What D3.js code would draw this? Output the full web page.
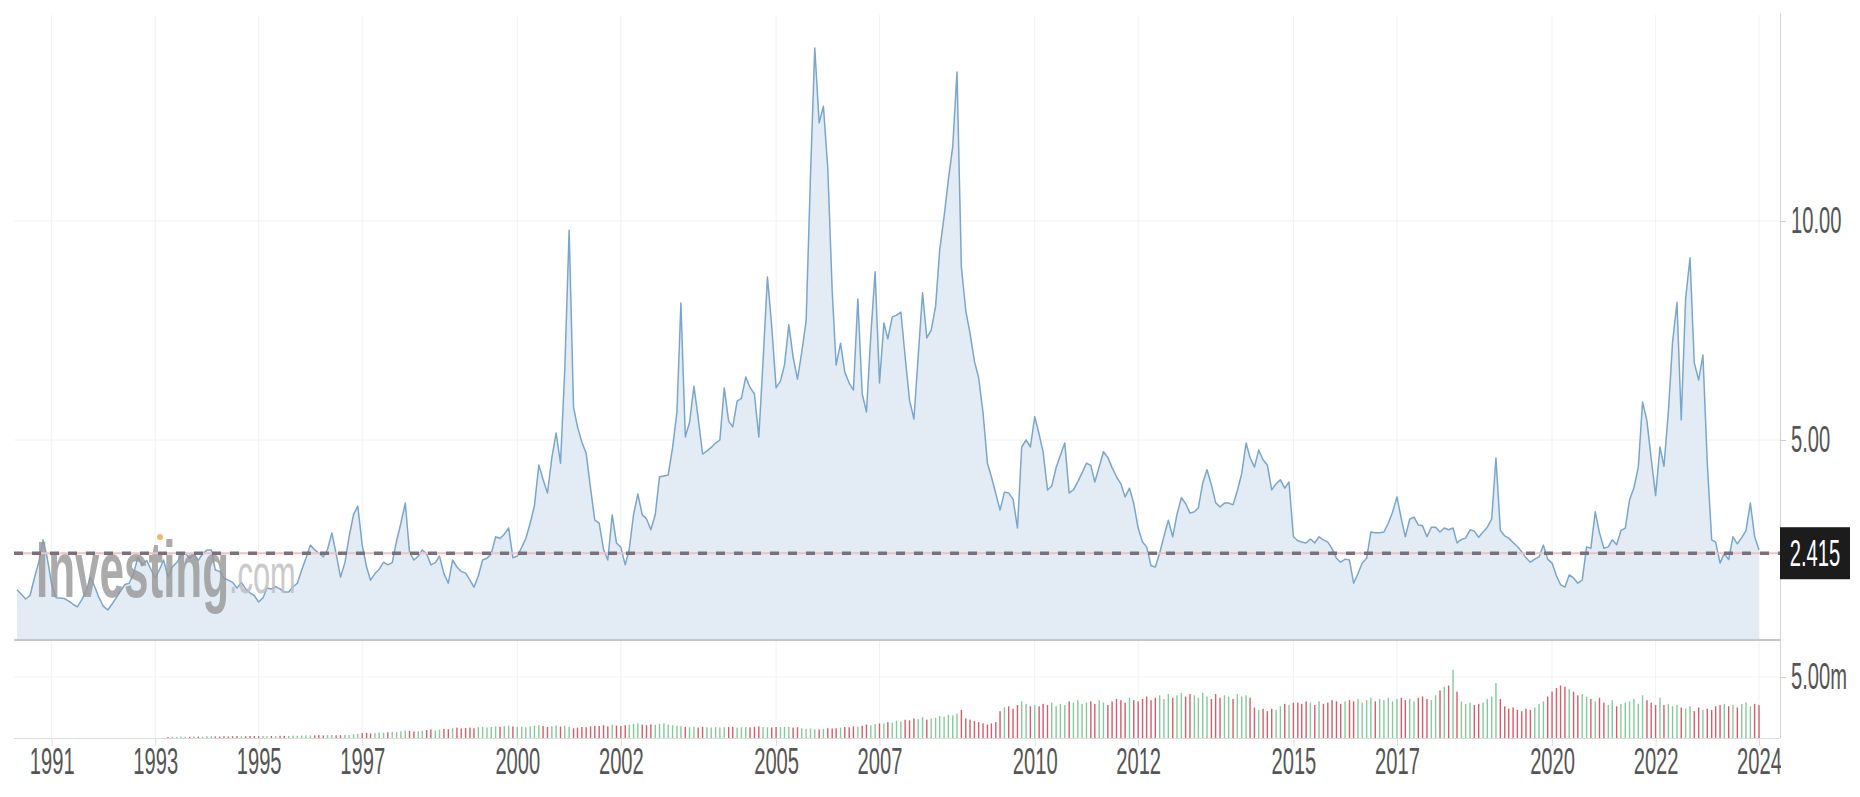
<!DOCTYPE html>
<html>
<head>
<meta charset="utf-8">
<script src="https://cdnjs.cloudflare.com/ajax/libs/d3/7.8.5/d3.min.js"></script>
<style>
body { margin: 0; background: #fff; overflow: hidden; }
svg { display: block; }
</style>
</head>
<body>
<div id="chart"></div>
<script>
var width = 1860;
var height = 797;

// monthly closes, first one is April 1990
var startMonth = new Date(1990, 3, 1);
var closes = [
  1.58,1.48,1.37,1.45,1.85,2.20,2.72,2.30,1.70,                  // 1990
  1.40,1.39,1.38,1.32,1.25,1.19,1.35,1.55,1.87,1.65,1.40,1.20,   // 1991
  1.12,1.25,1.40,1.55,1.70,1.73,1.95,2.33,2.15,2.25,2.05,1.85,   // 1992
  2.05,2.26,1.87,2.10,2.20,2.35,2.42,2.30,2.40,2.25,2.40,2.49,   // 1993
  2.49,2.03,2.00,1.85,1.80,1.75,1.62,1.75,1.60,1.51,1.45,1.30,   // 1994
  1.40,1.62,1.60,1.65,1.60,1.53,1.53,1.65,1.73,2.03,2.30,2.60,   // 1995
  2.49,2.42,2.33,2.50,2.88,2.40,1.87,2.20,2.80,3.30,3.49,2.60,   // 1996
  2.10,1.80,1.95,2.05,2.21,2.15,2.20,2.70,3.10,3.56,2.44,2.26,   // 1997
  2.35,2.49,2.40,2.15,2.20,2.35,1.95,1.73,2.26,2.10,2.00,1.96,   // 1998
  1.80,1.64,1.90,2.26,2.30,2.40,2.79,2.75,2.85,2.99,2.31,2.35,   // 1999
  2.55,2.75,3.10,3.50,4.43,4.10,3.79,4.60,5.16,4.47,6.60,9.79,   // 2000
  5.75,5.30,4.95,4.70,3.90,3.17,3.10,2.50,2.26,3.29,2.65,2.55,   // 2001
  2.15,2.50,3.30,3.77,3.29,3.20,2.95,3.30,4.16,4.18,4.20,4.82,   // 2002
  5.64,8.13,5.07,5.40,6.23,5.50,4.68,4.75,4.83,4.93,5.00,6.19,   // 2003
  5.43,5.30,5.89,5.95,6.44,6.20,6.05,5.07,6.80,8.72,7.60,6.19,   // 2004
  6.35,6.71,7.63,6.90,6.39,7.00,7.72,11.05,13.95,12.24,12.62,11.20, // 2005
  8.40,6.71,7.21,6.55,6.30,6.14,8.22,6.05,5.64,7.40,8.84,6.30,   // 2006
  7.67,7.31,7.81,7.85,7.92,6.90,5.91,5.48,6.90,8.36,7.33,7.51,   // 2007
  8.05,9.34,10.10,10.94,11.70,13.40,8.95,7.95,7.44,6.80,6.42,5.62, // 2008
  4.47,4.16,3.78,3.40,3.81,3.79,3.65,2.99,4.84,5.00,4.84,5.53,   // 2009
  5.13,4.73,3.86,3.95,4.37,4.65,4.93,3.79,3.86,4.05,4.25,4.47,   // 2010
  4.42,4.04,4.39,4.73,4.60,4.37,4.16,4.00,3.70,3.90,3.55,2.99,   // 2011
  2.67,2.56,2.13,2.10,2.42,2.80,3.17,2.79,3.30,3.68,3.55,3.33,   // 2012
  3.36,3.45,4.02,4.32,3.98,3.57,3.47,3.56,3.56,3.52,3.84,4.23,   // 2013
  4.93,4.60,4.38,4.77,4.55,4.43,3.86,4.00,4.09,3.90,4.04,2.79,   // 2014
  2.70,2.67,2.65,2.74,2.65,2.79,2.72,2.67,2.52,2.30,2.21,2.28,   // 2015
  2.26,1.73,1.95,2.19,2.30,2.90,2.88,2.88,2.90,3.10,3.35,3.70,   // 2016
  3.20,2.79,3.19,3.24,3.06,3.04,2.79,3.01,3.01,2.90,2.99,2.95,   // 2017
  2.99,2.65,2.73,2.76,2.95,2.92,2.78,2.90,3.01,3.20,4.59,2.94,   // 2018
  2.81,2.76,2.66,2.57,2.45,2.31,2.21,2.28,2.33,2.60,2.28,2.19,   // 2019
  1.90,1.70,1.64,1.92,1.85,1.73,1.80,2.56,2.53,3.36,2.88,2.53,   // 2020
  2.56,2.72,2.61,2.93,2.99,3.63,3.91,4.38,5.87,5.43,4.57,3.73,   // 2021
  4.84,4.40,5.64,7.24,8.14,5.46,8.23,9.16,6.76,6.37,6.94,4.47,   // 2022
  2.72,2.67,2.19,2.41,2.27,2.79,2.63,2.77,2.93,3.56,2.80,2.49    // 2023
];

// monthly volume in millions (no bars before 1993)
var volumes = [
  null,null,null,null,null,null,null,null,null,                          // 1990
  null,null,null,null,null,null,null,null,null,null,null,null,           // 1991
  null,null,null,null,null,null,null,null,null,null,null,null,           // 1992
  null,null,0.08,0.10,0.09,0.12,0.10,0.11,0.13,0.12,0.10,0.14,           // 1993
  0.15,0.13,0.12,0.14,0.13,0.15,0.16,0.14,0.15,0.17,0.16,0.15,           // 1994
  0.16,0.15,0.17,0.16,0.18,0.17,0.16,0.19,0.18,0.20,0.22,0.21,           // 1995
  0.22,0.24,0.21,0.23,0.25,0.22,0.24,0.26,0.25,0.30,0.35,0.40,           // 1996
  0.42,0.38,0.40,0.45,0.43,0.47,0.50,0.48,0.55,0.62,0.58,0.52,           // 1997
  0.55,0.60,0.65,0.70,0.62,0.68,0.75,0.72,0.80,0.85,0.78,0.82,           // 1998
  0.85,0.80,0.88,0.92,0.86,0.90,0.95,0.93,0.98,1.02,0.95,0.90,           // 1999
  0.92,0.88,0.95,1.00,1.05,0.98,0.90,0.96,1.02,0.94,1.00,0.92,           // 2000
  0.80,0.85,0.90,0.88,0.95,1.00,0.98,1.05,0.95,1.10,1.02,0.98,           // 2001
  1.05,1.10,1.15,1.20,1.10,1.05,1.12,1.08,1.15,1.20,1.10,1.05,           // 2002
  1.00,0.95,0.90,0.88,0.92,0.85,0.90,0.88,0.86,0.90,0.85,0.88,           // 2003
  0.90,0.92,0.85,0.88,0.90,0.87,0.92,0.95,0.90,0.88,0.86,0.90,           // 2004
  0.88,0.90,0.92,0.85,0.88,0.80,0.75,0.78,0.72,0.70,0.75,0.80,           // 2005
  0.78,0.80,0.85,0.90,0.88,0.95,0.92,1.00,1.10,1.05,1.15,1.20,           // 2006
  1.20,1.30,1.25,1.40,1.35,1.50,1.45,1.60,1.55,1.70,1.50,1.60,           // 2007
  1.65,1.80,1.75,1.90,1.85,2.00,2.30,1.60,1.50,1.40,1.30,1.20,           // 2008
  1.10,1.20,1.30,2.20,2.50,2.60,2.40,2.70,3.00,2.80,2.60,2.70,           // 2009
  2.60,2.80,2.70,2.90,2.60,2.80,2.70,3.00,2.90,3.10,2.80,2.90,           // 2010
  3.00,2.80,3.10,2.90,2.70,3.00,3.20,3.10,2.90,3.30,3.10,3.00,           // 2011
  3.20,3.40,3.10,3.30,3.50,3.20,3.60,3.30,3.50,3.70,3.40,3.60,           // 2012
  3.50,3.30,3.70,3.40,3.20,3.60,3.30,3.50,3.40,3.20,3.60,3.40,           // 2013
  3.50,3.30,2.50,2.30,2.40,2.20,2.40,2.30,2.60,2.80,2.70,2.90,           // 2014
  2.90,2.80,3.00,2.90,2.70,3.00,2.80,2.90,3.10,3.00,2.80,3.00,           // 2015
  3.10,3.00,3.20,2.90,3.10,3.30,3.00,3.20,3.10,3.30,3.00,3.20,           // 2016
  3.30,3.10,3.20,3.00,3.30,3.40,3.20,3.10,3.50,3.90,4.20,4.30,           // 2017
  5.60,3.80,3.00,2.80,2.90,2.70,2.80,2.90,3.20,3.40,4.50,3.20,           // 2018
  2.60,2.40,2.50,2.30,2.20,2.40,2.30,2.50,2.80,3.00,3.40,3.80,           // 2019
  4.10,4.30,4.20,4.00,3.80,3.50,3.60,3.40,3.20,3.00,3.30,2.90,           // 2020
  2.70,3.10,2.60,2.80,2.90,3.00,3.20,2.80,3.50,3.10,2.90,2.70,           // 2021
  3.30,2.70,2.80,2.60,2.70,2.50,2.40,2.60,2.20,2.50,2.30,2.40,           // 2022
  2.30,2.60,2.70,2.80,2.60,2.70,2.50,2.80,2.90,2.60,2.80,2.70            // 2023
];

var tickYears = [1991,1993,1995,1997,2000,2002,2005,2007,2010,2012,2015,2017,2020,2022,2024];
var priceTicks = [5, 10];
var volumeTicks = [5];
var lastPrice = 2.415;

// each monthly close is drawn at the end of its month
var data = closes.map(function(c, i) {
  return {
    date: d3.timeMonth.offset(startMonth, i + 1),
    close: c,
    volume: volumes[i],
    up: i === 0 ? true : c >= closes[i - 1]
  };
});

var padL = 14, padR = 1780, plotTop = 15, mainBottom = 640, volBottom = 738;
var squeeze = 0.56;   // the screenshot's text is narrow

var x = d3.scaleTime()
  .domain([new Date(1991, 0, 1), new Date(2024, 0, 1)])
  .range([51.7, 1759]);
var y = d3.scaleLinear().domain([0, 10]).range([659, 221]);
var yv = d3.scaleLinear().domain([0, 5]).range([volBottom, 677]);

var svg = d3.select("#chart").append("svg")
  .attr("width", width)
  .attr("height", height)
  .style("font-family", "'Liberation Sans', Arial, sans-serif");

svg.append("defs").append("clipPath").attr("id", "mainclip")
  .append("rect")
  .attr("x", padL).attr("y", plotTop)
  .attr("width", padR - padL).attr("height", mainBottom - plotTop);

// grid
svg.append("g").selectAll("line")
  .data(tickYears)
  .join("line")
  .attr("x1", function(d) { return x(new Date(d, 0, 1)); })
  .attr("x2", function(d) { return x(new Date(d, 0, 1)); })
  .attr("y1", plotTop)
  .attr("y2", volBottom)
  .attr("stroke", "#f2f2f2")
  .attr("stroke-width", 1);

svg.append("g").selectAll("line")
  .data(priceTicks)
  .join("line")
  .attr("x1", padL)
  .attr("x2", padR)
  .attr("y1", function(d) { return y(d); })
  .attr("y2", function(d) { return y(d); })
  .attr("stroke", "#f2f2f2");

svg.append("g").selectAll("line")
  .data(volumeTicks)
  .join("line")
  .attr("x1", padL)
  .attr("x2", padR)
  .attr("y1", function(d) { return yv(d); })
  .attr("y2", function(d) { return yv(d); })
  .attr("stroke", "#f4f4f4");

// price area + line
var main = svg.append("g").attr("clip-path", "url(#mainclip)");

var area = d3.area()
  .x(function(d) { return x(d.date); })
  .y0(mainBottom)
  .y1(function(d) { return y(d.close); });

var line = d3.line()
  .x(function(d) { return x(d.date); })
  .y(function(d) { return y(d.close); });

main.append("path")
  .datum(data)
  .attr("d", area)
  .attr("fill", "#e3ecf5");

// watermark
var wm = svg.append("g").attr("opacity", 0.8);
wm.append("text")
  .text("Investing")
  .attr("transform", "translate(36,597) scale(0.55,1)")
  .attr("font-size", 80)
  .attr("font-weight", "bold")
  .attr("fill", "#979797");
wm.append("text")
  .text(".com")
  .attr("transform", "translate(229,593) scale(0.55,1)")
  .attr("font-size", 56)
  .attr("fill", "#bdbdbd");
wm.append("circle")
  .attr("cx", 160).attr("cy", 537).attr("r", 3)
  .attr("fill", "#f4a54a");

main.append("path")
  .datum(data)
  .attr("d", line)
  .attr("fill", "none")
  .attr("stroke", "#7aa6cc")
  .attr("stroke-width", 1.5)
  .attr("stroke-linejoin", "round");

// last price line
svg.append("line")
  .attr("x1", padL).attr("x2", padR)
  .attr("y1", y(lastPrice)).attr("y2", y(lastPrice))
  .attr("stroke", "#ecc2c2")
  .attr("stroke-width", 2);
svg.append("line")
  .attr("x1", padL).attr("x2", padR)
  .attr("y1", y(lastPrice)).attr("y2", y(lastPrice))
  .attr("stroke", "#77717d")
  .attr("stroke-width", 3.5)
  .attr("stroke-dasharray", "9,9");

// volume bars
svg.append("g").selectAll("rect")
  .data(data.filter(function(d) { return d.volume != null; }))
  .join("rect")
  .attr("x", function(d) { return x(d.date) - 0.7; })
  .attr("width", 1.4)
  .attr("y", function(d) { return yv(d.volume); })
  .attr("height", function(d) { return volBottom - yv(d.volume); })
  .attr("fill", function(d) { return d.up ? "#86c99a" : "#d65c6b"; });

// pane borders
svg.append("line")
  .attr("x1", padL).attr("x2", padR)
  .attr("y1", mainBottom).attr("y2", mainBottom)
  .attr("stroke", "#c3c6ca")
  .attr("stroke-width", 2);
svg.append("line")
  .attr("x1", padL).attr("x2", padR)
  .attr("y1", volBottom + 0.5).attr("y2", volBottom + 0.5)
  .attr("stroke", "#dcdcdc");

// x axis
var xAxis = d3.axisBottom(x)
  .tickValues(tickYears.map(function(d) { return new Date(d, 0, 1); }))
  .tickFormat(d3.timeFormat("%Y"))
  .tickSize(8)
  .tickPadding(2);

var gx = svg.append("g")
  .attr("transform", "translate(0," + volBottom + ")")
  .call(xAxis);
gx.select(".domain").remove();
gx.selectAll(".tick line").attr("stroke", "#dedede");
gx.selectAll(".tick text")
  .attr("font-size", 36)
  .attr("fill", "#555")
  .attr("font-family", "'Liberation Sans', Arial, sans-serif")
  .attr("transform", "scale(" + squeeze + ",1)");

// right axis pane
svg.append("rect")
  .attr("x", padR + 1).attr("y", 0)
  .attr("width", width - padR).attr("height", height)
  .attr("fill", "#fff");
svg.append("line")
  .attr("x1", padR + 0.5).attr("x2", padR + 0.5)
  .attr("y1", 13).attr("y2", volBottom)
  .attr("stroke", "#d2d2d2");

var yAxis = d3.axisRight(y)
  .tickValues(priceTicks)
  .tickFormat(d3.format(".2f"))
  .tickSize(6);
var gy = svg.append("g")
  .attr("transform", "translate(" + padR + ",0)")
  .call(yAxis);

var vAxis = d3.axisRight(yv)
  .tickValues(volumeTicks)
  .tickFormat(function(d) { return d3.format(".2f")(d) + "m"; })
  .tickSize(6);
var gv = svg.append("g")
  .attr("transform", "translate(" + padR + ",0)")
  .call(vAxis);

[gy, gv].forEach(function(g) {
  g.select(".domain").remove();
  g.selectAll(".tick line").attr("stroke", "#cfcfcf");
  g.selectAll(".tick text")
    .attr("x", 11 / squeeze)
    .attr("font-size", 36)
    .attr("fill", "#555")
    .attr("font-family", "'Liberation Sans', Arial, sans-serif")
    .attr("transform", "scale(" + squeeze + ",1)");
});

// last price tag
svg.append("rect")
  .attr("x", padR)
  .attr("y", y(lastPrice) - 26)
  .attr("width", 70)
  .attr("height", 52)
  .attr("fill", "#1c1c1c");
svg.append("text")
  .text(d3.format(".3f")(lastPrice))
  .attr("transform", "translate(" + (padR + 35) + "," + (y(lastPrice) + 13) + ") scale(" + squeeze + ",1)")
  .attr("text-anchor", "middle")
  .attr("font-size", 36)
  .attr("fill", "#fff");
</script>
</body>
</html>
